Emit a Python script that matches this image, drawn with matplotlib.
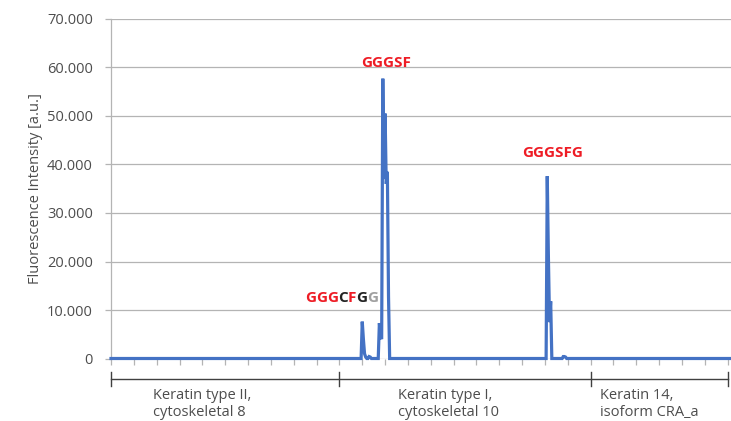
import numpy as np
import matplotlib
matplotlib.use("Agg")
import matplotlib.pyplot as plt
from matplotlib import transforms

plt.rcParams['font.family'] = ['Open Sans', 'DejaVu Sans']

# ---- data ----
n_points = 544                      # peptide positions along the scan
points_per_tick = 20
# nonzero fluorescence intensities (index -> value); all other positions are 0
peak_index = [220, 221, 222, 223, 226, 227,
              235, 236, 237, 238, 239, 240, 241, 242, 243,
              382, 383, 384, 385, 396, 397, 398]
peak_value = [7600, 4000, 1000, 300, 400, 300,
              7300, 4500, 4000, 57700, 37000, 50500, 36000, 38500, 12800,
              37600, 21000, 7500, 11800, 400, 400, 300]
group_bounds = [0, 200, 420, 540]
group_labels = ["Keratin type II,\ncytoskeletal 8",
                "Keratin type I,\ncytoskeletal 10",
                "Keratin 14,\nisoform CRA_a"]
peak_labels = ["GGGCFGG", "GGGSF", "GGGSFG"]
yticks = [0, 10000, 20000, 30000, 40000, 50000, 60000, 70000]
ytick_labels = ["0", "10.000", "20.000", "30.000", "40.000", "50.000", "60.000", "70.000"]

intensity = np.zeros(n_points)
intensity[peak_index] = peak_value
x = np.arange(n_points)

W, H = 731, 421
fig = plt.figure(figsize=(W / 100, H / 100), dpi=100)
left_px, right_px, top_px, bot_px = 111, 731, 19, 358.5
ax = fig.add_axes([left_px / W, 1 - bot_px / H, (right_px - left_px) / W, (bot_px - top_px) / H])

px_per_idx = (727.7 - 111) / 540.0
ax.set_xlim(0, (right_px - left_px) / px_per_idx)
ax.set_ylim(0, 70000)

text_col = '#4d4d4d'
grid_col = '#b4b4b4'

ax.plot(x, intensity, color='#4472C4', lw=2.3, clip_on=False, zorder=3, solid_joinstyle='miter')

for s in ['top', 'right', 'bottom']:
    ax.spines[s].set_visible(False)
ax.spines['left'].set_color(grid_col)
ax.spines['left'].set_linewidth(0.9)

ax.set_yticks(yticks)
ax.set_yticklabels(ytick_labels)
ax.yaxis.grid(True, color=grid_col, lw=0.9)
ax.set_axisbelow(True)
ax.tick_params(axis='y', length=4, width=0.9, color=grid_col, labelsize=10.5, labelcolor=text_col, pad=9)
ax.set_ylabel("Fluorescence Intensity [a.u.]", fontsize=10.5, color=text_col, labelpad=3)

ax.set_xticks(np.arange(0, 541, points_per_tick))
ax.set_xticklabels([])
ax.tick_params(axis='x', length=4, width=0.9, color=grid_col, direction='out')

# multi-level category bracket
trans = transforms.blended_transform_factory(ax.transData, fig.transFigure)
def fy(py):
    return 1 - py / H
ax.plot([group_bounds[0], group_bounds[-1]], [fy(378.5), fy(378.5)], transform=trans,
        color='#404040', lw=1.0, clip_on=False)
for b in group_bounds:
    ax.plot([b, b], [fy(372), fy(386)], transform=trans, color='#404040', lw=1.0, clip_on=False)
label_x_px = [153, 397.5, 600.5]
for lx, lab in zip(label_x_px, group_labels):
    ax.text((lx - 111) / px_per_idx, fy(388), lab, transform=trans, ha='left', va='top',
            fontsize=10.5, color=text_col, linespacing=1.2)

# peak labels
red = '#EE1C25'
ax.text(238 + 3, 61000, peak_labels[1], ha='center', va='center', fontsize=11,
        fontweight='bold', color=red)
ax.text(382 + 4.5, 42400, peak_labels[2], ha='center', va='center', fontsize=11,
        fontweight='bold', color=red)

# multi-coloured label GGGCFGG (each letter placed at width of the preceding prefix)
cols = [red, red, red, '#222222', red, '#222222', '#a0a0a0']
fig.canvas.draw()
renderer = fig.canvas.get_renderer()
start_px = 305.0
ycen = 1 - 298.5 / H
word = peak_labels[0]
for i, (ch, c) in enumerate(zip(word, cols)):
    if i == 0:
        off = 0.0
    else:
        probe = fig.text(0, 0, word[:i], fontsize=11, fontweight='bold')
        off = probe.get_window_extent(renderer=renderer).width
        probe.remove()
    fig.text((start_px + off) / W, ycen, ch, ha='left', va='center', fontsize=11,
             fontweight='bold', color=c)

fig.savefig("out.png", dpi=100)
